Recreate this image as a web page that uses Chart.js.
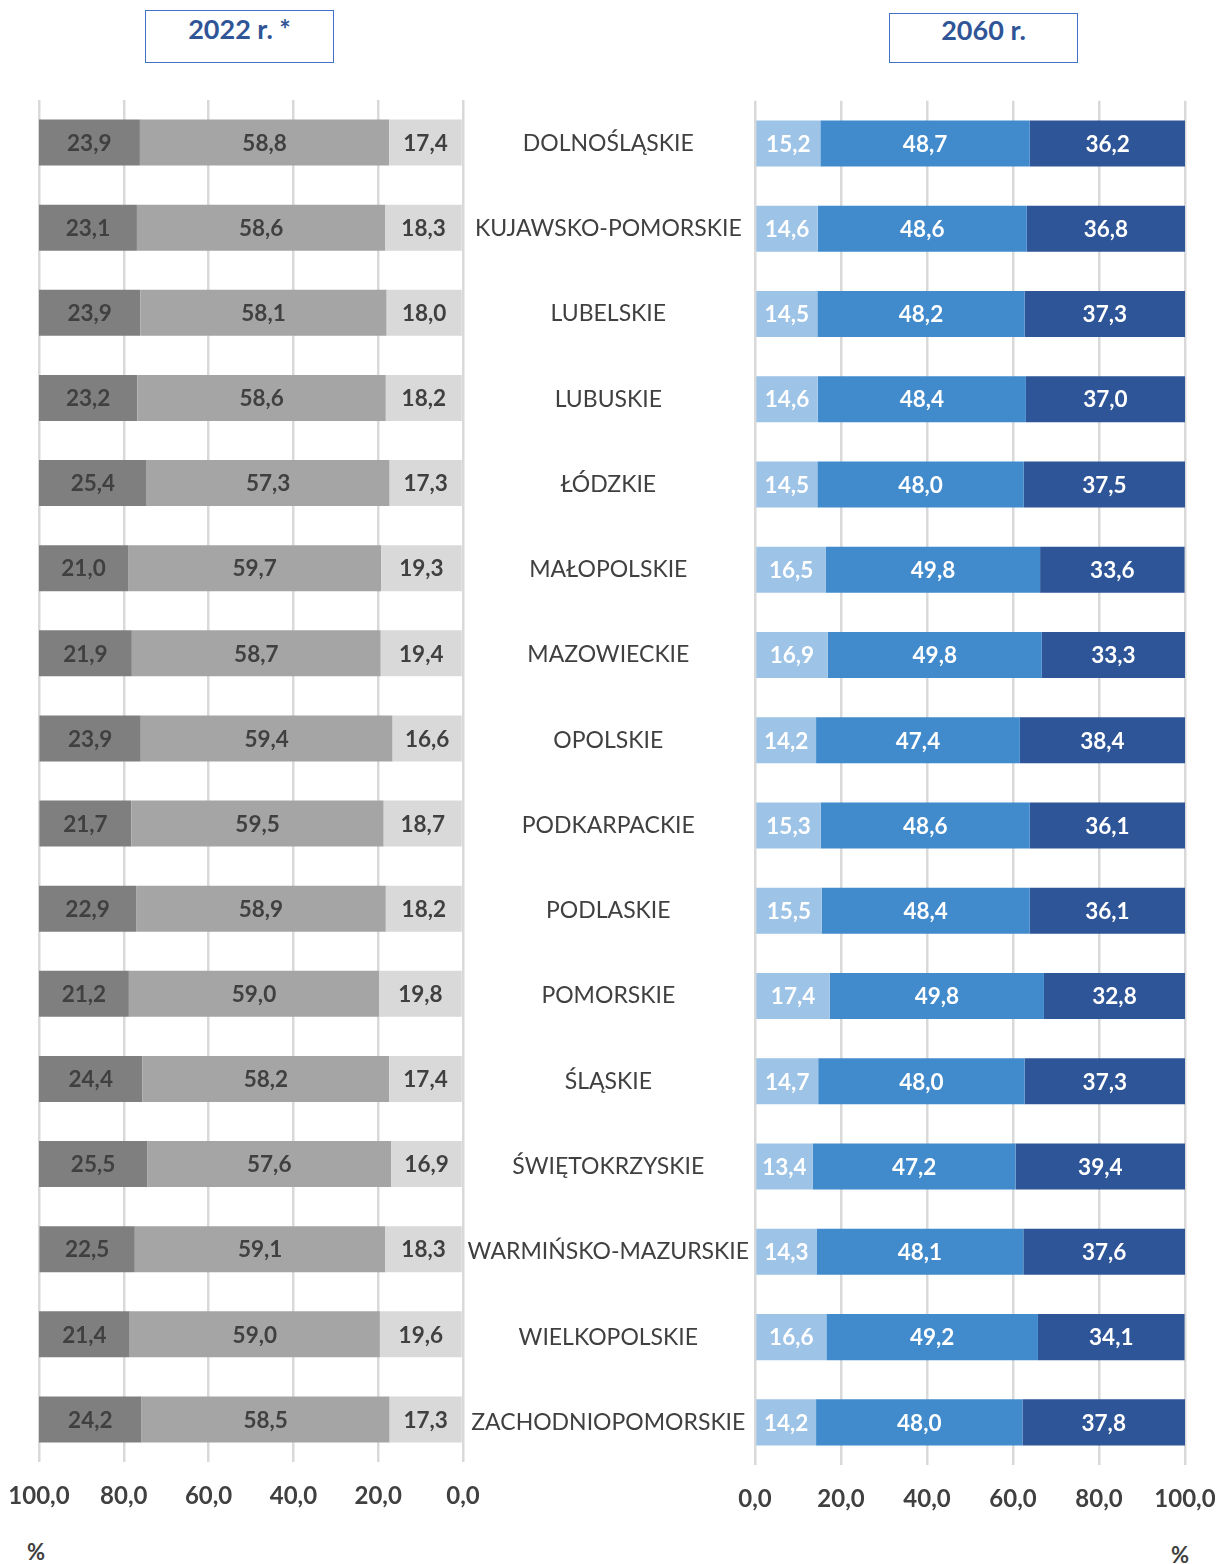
<!DOCTYPE html>
<html>
<head>
<meta charset="utf-8">
<script src="https://cdn.jsdelivr.net/npm/chart.js@4.4.1/dist/chart.umd.min.js"></script>
<style>
  html,body{margin:0;padding:0;background:#fff;}
  body{width:1228px;height:1564px;position:relative;overflow:hidden;font-family:Lato,"Open Sans",sans-serif;}
  .hdr{position:absolute;border:1px solid #4472C4;box-sizing:border-box;color:#2F5597;font-weight:bold;font-size:27px;text-align:center;line-height:32px;}
  .pct{position:absolute;font-size:22px;font-weight:bold;color:#404040;}
  .wrap{position:absolute;}
</style>
</head>
<body>
<div class="hdr" id="h1" style="left:145px;top:10px;width:189px;height:53px;padding-top:2px;"></div>
<div class="hdr" id="h2" style="left:889px;top:13px;width:189px;height:50px;padding-top:0px;"></div>
<div class="wrap" style="left:0;top:90px;width:500px;height:1430px;"><canvas id="c1"></canvas></div>
<div class="wrap" style="left:463px;top:87px;width:765px;height:1436px;"><canvas id="c2"></canvas></div>
<div class="pct" style="left:27px;top:1538px;">%</div>
<div class="pct" style="left:1171px;top:1541px;">%</div>
<script>
const titles = ["2022 r. *", "2060 r."];
const regions = ["DOLNOŚLĄSKIE","KUJAWSKO-POMORSKIE","LUBELSKIE","LUBUSKIE","ŁÓDZKIE","MAŁOPOLSKIE","MAZOWIECKIE","OPOLSKIE","PODKARPACKIE","PODLASKIE","POMORSKIE","ŚLĄSKIE","ŚWIĘTOKRZYSKIE","WARMIŃSKO-MAZURSKIE","WIELKOPOLSKIE","ZACHODNIOPOMORSKIE"];
// 2022 (left chart)
const y2022_dark  = [23.9,23.1,23.9,23.2,25.4,21.0,21.9,23.9,21.7,22.9,21.2,24.4,25.5,22.5,21.4,24.2];
const y2022_mid   = [58.8,58.6,58.1,58.6,57.3,59.7,58.7,59.4,59.5,58.9,59.0,58.2,57.6,59.1,59.0,58.5];
const y2022_light = [17.4,18.3,18.0,18.2,17.3,19.3,19.4,16.6,18.7,18.2,19.8,17.4,16.9,18.3,19.6,17.3];
// 2060 (right chart)
const y2060_light = [15.2,14.6,14.5,14.6,14.5,16.5,16.9,14.2,15.3,15.5,17.4,14.7,13.4,14.3,16.6,14.2];
const y2060_mid   = [48.7,48.6,48.2,48.4,48.0,49.8,49.8,47.4,48.6,48.4,49.8,48.0,47.2,48.1,49.2,48.0];
const y2060_dark  = [36.2,36.8,37.3,37.0,37.5,33.6,33.3,38.4,36.1,36.1,32.8,37.3,39.4,37.6,34.1,37.8];

document.getElementById('h1').textContent = titles[0];
document.getElementById('h2').textContent = titles[1];

const fmt = v => v.toFixed(1).replace('.', ',');
const FONT = 'Lato, "Open Sans", sans-serif';

const valueLabels = {
  id: 'valueLabels',
  afterDatasetsDraw(chart) {
    const ctx = chart.ctx;
    ctx.save();
    ctx.font = 'bold 22.5px ' + FONT;
    ctx.textAlign = 'center';
    ctx.textBaseline = 'middle';
    chart.data.datasets.forEach((ds, i) => {
      const meta = chart.getDatasetMeta(i);
      meta.data.forEach((el, j) => {
        const p = el.getCenterPoint();
        ctx.fillStyle = ds.labelColor;
        ctx.fillText(fmt(ds.data[j]), p.x, p.y + 1);
      });
    });
    ctx.restore();
  }
};

function xScale(reverse) {
  return {
    stacked: true, min: 0, max: 100, reverse: reverse,
    grid: { color: '#D9D9D9', lineWidth: 2.5, drawTicks: true, tickLength: 18, tickColor: 'rgba(0,0,0,0)' },
    border: { display: false },
    ticks: { stepSize: 20, padding: 2, color: '#404040', font: { family: FONT, size: 24, weight: 'bold' },
             callback: v => fmt(v), maxRotation: 0 },
    afterFit: s => { s.height = 58; }
  };
}

const common = {
  indexAxis: 'y',
  responsive: true,
  maintainAspectRatio: false,
  animation: false,
  plugins: { legend: { display: false }, tooltip: { enabled: false } },
};

new Chart(document.getElementById('c1'), {
  type: 'bar',
  data: {
    labels: regions,
    datasets: [
      { data: y2022_light, backgroundColor: '#D9D9D9', labelColor: '#404040' },
      { data: y2022_mid, backgroundColor: '#A5A5A5', labelColor: '#404040' },
      { data: y2022_dark, backgroundColor: '#7F7F7F', labelColor: '#404040' }
    ]
  },
  options: Object.assign({}, common, {
    datasets: { bar: { categoryPercentage: 1, barPercentage: 0.54 } },
    layout: { padding: { left: 39, right: 37, top: 10, bottom: 0 } },
    scales: {
      x: xScale(true),
      y: { stacked: true, display: false }
    }
  }),
  plugins: [valueLabels]
});

new Chart(document.getElementById('c2'), {
  type: 'bar',
  data: {
    labels: regions,
    datasets: [
      { data: y2060_light, backgroundColor: '#9DC3E6', labelColor: '#FFFFFF' },
      { data: y2060_mid, backgroundColor: '#418BCD', labelColor: '#FFFFFF' },
      { data: y2060_dark, backgroundColor: '#2E5597', labelColor: '#FFFFFF' }
    ]
  },
  options: Object.assign({}, common, {
    datasets: { bar: { categoryPercentage: 1, barPercentage: 0.54 } },
    layout: { padding: { left: 0, right: 43, top: 10, bottom: 0 } },
    scales: {
      x: xScale(false),
      y: {
        stacked: true,
        grid: { display: false, drawTicks: true, tickLength: 6 },
        border: { display: false },
        ticks: { crossAlign: 'center', padding: 0, color: '#404040', font: { family: FONT, size: 23 } },
        afterFit: s => { s.width = 292; }
      }
    }
  }),
  plugins: [valueLabels]
});
</script>
</body>
</html>
